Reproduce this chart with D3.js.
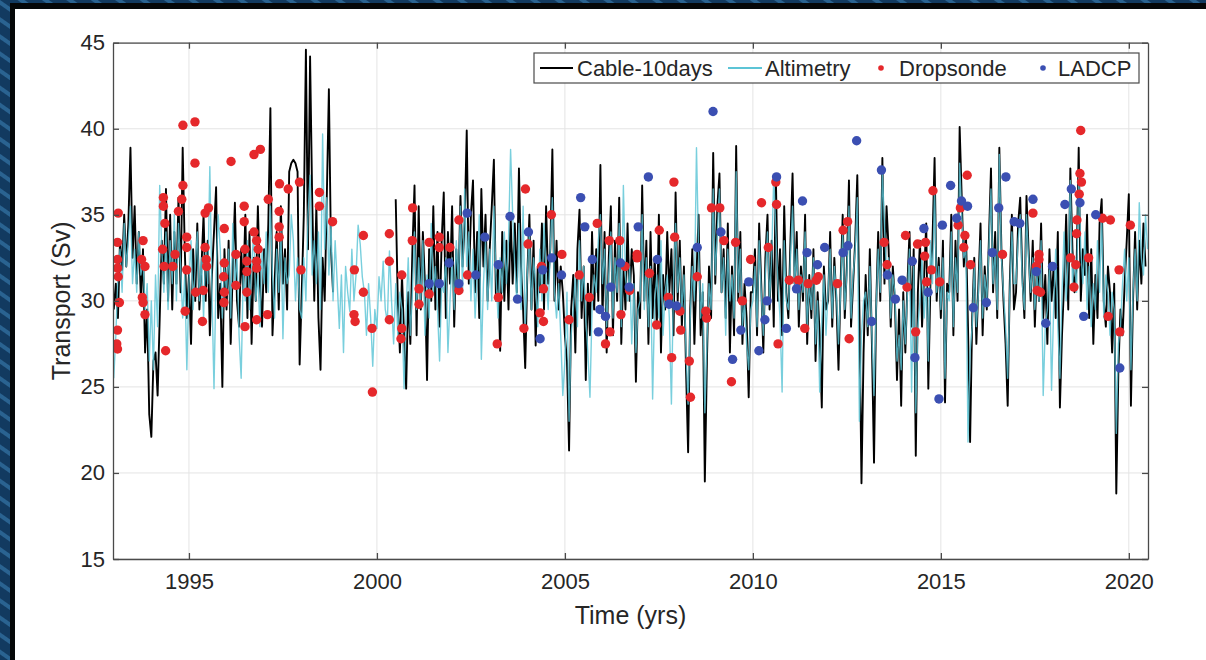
<!DOCTYPE html>
<html>
<head>
<meta charset="utf-8">
<title>Transport time series</title>
<script src="https://d3js.org/d3.v7.min.js"></script>
<style>
html, body { margin: 0; padding: 0; overflow: hidden; background: #fff; }
svg { display: block; }
text { font-family: "Liberation Sans", Arial, Helvetica, sans-serif; fill: #262626; }
</style>
</head>
<body>
<svg width="1206" height="660"></svg>
<script>
// ---- data ----
// cable transport, 18 samples / year
var cableAStart = 1993.0;   // 1993.0 - 1998.83
var cableA = [
 29.5,31.0,29.0,33.5,31.8,35.0,32.0,34.5,38.9,32.5,35.5,31.0,34.0,30.0,33.0,27.0,29.5,23.4,
 22.1,26.5,27.0,24.5,29.0,33.5,31.0,36.5,30.0,35.0,29.5,34.0,31.0,36.0,30.5,38.9,33.0,29.0,
 31.5,27.5,33.0,30.0,34.5,29.5,32.0,35.0,30.0,33.5,28.0,31.5,34.0,36.6,29.0,31.0,25.0,33.0,
 29.5,33.5,27.5,32.0,35.7,30.0,28.5,33.0,30.5,35.0,29.0,34.0,27.5,32.5,30.0,35.5,31.0,28.5,
 33.0,30.5,34.5,41.2,28.0,31.0,34.0,29.5,35.5,31.0,33.0,29.5,37.5,38.0,38.2,38.0,37.5,26.3,
 30.5,35.0,44.6,33.0,44.2,36.0,30.0,35.5,29.0,26.0,32.5,30.0,36.0,42.3,33.0,30.5
];
var cableBStart = 2000.5;   // 2000.5 - 2020.44
var cableB = [
 35.9,30.0,27.0,31.5,28.0,24.9,30.5,27.5,33.0,
 36.7,28.0,35.5,29.5,34.0,31.0,25.4,33.0,30.0,35.5,29.5,34.0,28.5,33.5,36.3,29.0,34.0,31.0,
 35.5,28.5,33.0,30.5,36.1,32.0,34.5,39.9,31.0,35.0,37.0,30.5,34.0,29.0,36.5,32.0,35.0,30.0,
 33.0,35.5,38.2,30.0,32.0,27.1,34.0,30.0,33.5,29.5,35.0,31.0,34.5,30.5,37.7,32.0,29.5,26.1,
 31.5,35.0,29.5,33.5,27.4,32.0,30.5,34.5,29.5,35.5,31.0,33.0,38.8,30.0,33.5,29.5,32.0,30.5,
 28.0,26.5,21.3,29.5,31.5,27.0,33.0,35.3,29.0,32.0,25.4,31.0,28.0,34.0,29.5,33.0,30.0,37.9,
 29.0,34.0,27.0,32.5,35.5,28.0,33.5,30.0,36.0,27.5,32.0,29.5,34.5,30.0,33.0,31.5,25.3,30.5,
 29.0,36.7,30.0,33.5,27.5,34.0,29.0,32.5,28.5,35.0,27.0,31.5,29.5,34.0,30.5,33.0,28.0,36.3,
 30.0,33.5,28.5,32.0,26.0,21.2,29.5,33.0,27.5,31.5,35.0,28.0,30.5,19.5,26.5,32.0,29.0,38.6,
 31.0,35.5,37.4,30.5,33.0,29.0,34.5,27.0,32.0,28.0,39.0,30.0,34.0,27.5,31.0,29.0,24.4,30.5,
 30.5,33.0,28.0,34.5,31.0,27.0,32.5,35.0,29.5,33.5,28.5,37.3,30.0,33.0,28.0,35.5,30.5,29.0,
 33.5,37.4,31.0,34.0,28.5,32.0,30.0,35.0,27.5,31.5,29.0,33.0,26.5,30.5,28.0,23.8,32.0,29.5,
 30.0,34.0,28.5,32.5,30.0,26.0,31.0,35.0,29.0,32.0,37.0,28.5,31.0,33.5,37.3,29.5,19.4,27.0,
 31.5,28.0,33.0,27.5,20.6,29.5,34.0,30.0,38.3,31.0,35.5,33.0,28.5,32.0,30.0,25.4,29.5,23.9,
 30.5,27.0,31.0,34.0,28.5,33.0,21.0,30.5,33.5,28.5,31.5,34.5,24.9,31.0,33.5,38.3,30.0,32.5,
 29.0,33.5,24.1,31.0,30.5,35.0,28.0,33.5,30.0,40.1,36.0,32.0,34.0,28.5,21.8,29.0,32.5,27.5,
 31.0,34.5,28.0,32.0,29.5,33.5,37.7,30.5,34.0,29.0,38.9,33.0,30.0,27.5,23.9,31.0,35.0,29.5,
 30.5,34.5,36.0,31.5,29.0,36.1,33.0,30.0,33.5,28.5,32.0,30.0,34.5,29.0,31.5,27.5,33.0,30.0,
 32.0,29.0,34.0,23.8,28.0,31.0,35.0,29.5,37.7,33.0,30.5,32.0,38.9,30.0,33.0,31.5,35.0,29.0,
 33.0,27.5,31.5,29.0,34.5,35.9,30.0,28.5,32.0,30.5,27.0,31.0,18.8,26.0,29.5,28.0,31.0,33.5,
 36.2,23.9,30.0,34.0,29.5,33.5,31.0,34.5,32.0
];
// altimetry-based transport, 18 samples / year from 1993.0
var altStart = 1993.0;
var altimetry = [
 25.5,28.0,31.5,33.0,30.5,34.5,32.0,33.5,35.5,31.0,33.0,30.5,34.0,31.5,32.5,29.5,31.0,26.5,
 30.0,26.0,31.5,28.5,36.7,33.0,30.5,34.0,29.5,33.5,31.0,35.0,30.0,34.5,32.0,29.0,31.5,26.0,
 31.0,33.5,29.5,32.0,34.0,30.0,32.5,29.0,33.0,31.0,37.8,30.5,24.9,31.5,35.0,33.0,29.0,32.0,
 30.5,33.0,29.0,34.5,31.0,32.5,28.0,25.5,31.5,30.0,33.5,29.5,32.0,34.0,30.0,31.5,28.5,33.0,
 31.0,34.0,30.5,35.5,31.5,29.0,33.0,30.5,34.5,27.8,32.5,31.0,31.5,35.0,33.5,30.0,32.5,29.5,
 29.0,32.5,30.0,35.0,37.3,31.5,33.5,31.0,34.0,29.5,39.7,33.0,36.0,31.5,34.5,30.0,33.5,31.0,
 28.4,31.5,27.0,32.0,30.5,29.4,33.0,30.0,31.5,34.4,33.3,31.4,30.5,28.0,31.0,29.0,26.2,29.5,
 28.4,31.4,30.0,32.3,29.5,28.8,32.9,30.0,27.5,31.0,28.0,30.5,29.5,24.9,29.5,32.5,28.0,30.5,
 34.0,29.5,32.5,30.0,33.5,28.0,31.5,29.0,34.5,30.5,32.0,29.5,26.5,31.0,30.5,32.5,27.0,30.0,
 32.5,29.5,33.5,31.0,35.5,30.5,36.5,32.0,34.0,30.0,33.0,29.0,31.5,35.0,26.6,31.0,33.5,29.5,
 33.0,30.0,35.5,31.5,29.0,32.5,30.5,34.0,31.0,33.5,38.8,35.0,32.0,30.0,34.5,29.5,35.5,28.5,
 31.5,34.0,29.5,32.5,31.0,28.5,33.0,30.0,34.5,31.5,29.5,33.0,36.0,30.5,29.0,31.0,28.0,24.5,
 26.5,30.5,23.0,28.0,29.5,31.5,28.5,33.5,30.0,32.0,29.0,27.0,24.4,29.5,31.5,30.5,33.5,35.0,
 31.0,33.0,28.5,31.5,34.0,29.0,32.5,30.5,34.5,28.5,36.7,31.5,30.0,32.0,27.5,31.0,27.0,29.5,
 30.0,35.0,29.5,32.5,28.5,32.0,24.3,30.0,31.5,29.0,33.5,28.0,30.5,31.5,29.0,24.0,31.0,34.5,
 30.5,32.5,29.5,31.5,27.0,24.0,29.0,32.0,30.0,38.9,33.0,29.0,31.0,23.5,27.5,31.0,29.5,36.5,
 31.5,34.0,36.5,30.5,32.5,28.0,33.0,30.0,31.5,29.0,37.5,30.5,33.0,28.5,30.0,27.5,26.0,29.5,
 30.0,32.0,28.5,33.5,30.5,28.0,31.5,34.0,30.0,32.5,37.3,34.0,31.0,29.0,24.7,33.5,30.0,29.5,
 32.5,35.5,31.0,33.0,29.5,31.5,30.5,34.0,28.5,31.0,29.5,32.5,27.5,30.0,24.7,29.0,31.5,28.0,
 30.5,33.0,29.0,32.0,30.5,27.5,30.5,34.0,29.5,31.5,35.5,29.0,31.5,33.0,36.0,23.0,28.0,30.0,
 30.5,28.5,32.0,28.0,24.5,29.5,33.0,30.5,37.5,34.5,31.5,32.5,29.0,31.5,30.5,26.5,28.0,26.0,
 30.0,27.5,30.5,33.0,24.7,32.0,23.5,28.5,30.0,32.5,29.0,31.0,26.5,33.5,31.0,36.5,30.5,32.0,
 29.5,32.5,25.5,30.5,30.0,34.0,28.5,32.5,30.5,38.0,35.0,32.5,33.0,21.8,27.0,28.5,32.0,28.5,
 30.5,33.5,29.0,31.5,30.0,33.0,36.5,31.0,33.0,29.5,38.5,32.5,30.5,28.5,25.5,30.5,34.0,31.0,
 31.0,33.5,35.0,31.0,29.5,35.0,32.5,30.5,32.5,29.5,31.5,30.0,33.5,24.5,28.5,29.5,32.0,24.8,
 29.5,33.0,28.5,25.5,30.5,34.0,30.0,32.5,37.0,31.0,32.5,30.5,37.5,33.0,31.0,34.0,29.5,32.0,
 28.5,31.0,29.5,33.5,30.5,35.0,29.0,31.5,30.5,28.0,30.5,29.5,22.3,27.5,28.5,31.0,33.0,30.0,
 32.5,26.0,30.5,33.0,30.0,35.7,32.5,31.5,35.0,33.0
];
var perYear = 18;

// dropsonde sections (time, Sv)
var dropT = [1993.12,1993.10,1993.10,1993.10,1993.12,1993.15,1993.10,1993.08,1993.10,1993.78,1993.74,1993.83,1993.76,1993.78,1993.83,
 1994.38,1994.32,1994.32,1994.36,1994.30,1994.34,1994.57,1994.63,1994.72,1994.81,1994.84,1994.84,1995.16,1995.16,1994.94,1994.94,1994.94,1994.90,
 1995.36,1995.18,1995.38,1995.43,1995.46,1995.47,1995.43,1995.52,1995.94,1995.94,1995.92,1995.94,1995.93,1996.12,1996.25,1996.25,
 1996.47,1996.47,1996.49,1996.54,1996.54,1996.54,1996.49,1996.73,1996.80,1996.84,1996.80,1996.80,1996.80,1996.73,1996.90,
 1997.11,1997.09,1997.41,1997.40,1997.40,1997.40,1997.64,1997.94,1997.98,1998.47,1998.47,1998.82,
 1999.40,1999.64,1999.64,1999.39,1999.42,1999.87,1999.88,2000.33,2000.33,2000.33,2000.66,2000.66,2000.64,2000.95,2000.94,
 2001.12,2001.12,2001.39,2001.39,2001.66,2001.66,2001.94,2002.18,2002.18,2002.41,2003.23,2003.20,2003.95,2004.02,2003.91,
 2004.38,2004.43,2004.34,2004.43,2004.64,2004.92,2005.11,2005.38,2005.86,2005.65,2006.18,2006.46,2006.92,2006.92,2006.20,2006.08,
 2006.49,2006.72,2006.60,2007.25,2007.44,2007.51,2007.90,2007.92,2007.75,2008.06,2008.08,2007.84,2008.31,2008.34,2008.52,2008.75,2008.77,
 2008.90,2009.12,2009.23,2009.54,2009.72,2009.43,2009.94,2010.23,2010.41,2010.61,2010.63,2010.67,2010.97,2011.21,2011.47,2011.69,2011.74,
 2012.25,2011.38,2012.40,2012.52,2012.56,2013.49,2013.57,2014.06,2014.38,2014.59,2014.57,2014.10,2014.33,2014.62,2014.75,2014.79,2014.97,
 2015.70,2015.52,2015.46,2015.64,2015.61,2015.79,2016.64,2017.45,2017.61,2017.61,2017.54,2017.56,2017.65,
 2018.72,2018.70,2018.74,2018.68,2018.62,2018.61,2018.45,2018.59,2018.54,2018.93,2019.30,2019.51,2019.74,2019.45,2019.76,2020.04];
var dropV = [35.1,33.4,32.4,31.9,31.4,29.9,28.3,27.5,27.2,33.5,32.4,32.0,30.2,29.9,29.2,
 27.1,36.0,35.5,34.5,33.0,32.0,32.0,32.7,35.2,35.9,36.7,40.2,40.4,38.0,33.7,33.1,31.8,29.4,
 28.8,30.5,30.6,33.1,32.4,32.0,35.1,35.4,34.2,32.2,31.4,30.5,29.9,38.1,32.7,30.9,
 35.5,34.6,33.0,32.3,31.7,30.5,28.5,34.0,33.5,33.0,32.3,31.9,28.9,38.5,38.8,
 35.9,29.2,36.8,35.2,34.3,33.7,36.5,36.9,31.8,36.3,35.5,34.6,
 31.8,33.8,30.5,29.2,28.8,28.4,24.7,33.9,32.3,28.9,31.5,28.4,27.8,35.4,33.5,
 30.7,29.8,33.4,30.4,33.7,33.1,33.1,34.7,30.6,31.5,30.2,27.5,36.5,33.3,28.4,
 32.0,30.7,29.3,28.8,35.0,32.7,28.9,31.5,34.5,30.2,33.5,33.5,32.7,32.5,28.2,27.5,
 29.2,30.6,32.0,31.6,28.6,34.1,36.9,33.7,30.2,29.4,28.3,26.7,26.5,24.4,31.4,29.4,29.0,
 35.4,35.4,33.5,33.4,30.0,25.3,32.4,35.7,33.1,36.9,35.6,27.5,31.2,31.2,31.0,31.2,31.4,
 31.0,28.4,34.1,34.6,27.8,33.4,32.1,33.8,33.3,33.4,32.6,30.8,28.2,31.1,31.8,36.4,31.1,
 37.3,35.4,34.4,33.8,33.1,32.1,32.7,35.1,32.7,32.4,32.0,30.6,30.5,
 39.9,37.4,36.9,36.2,34.7,33.9,32.5,32.1,30.8,32.5,34.8,34.7,31.8,29.1,28.2,34.4];

// LADCP sections (time, Sv)
var ladcpT = [2001.39,2001.66,2001.92,2002.18,2002.40,2002.63,2002.87,2003.23,2003.54,2003.74,2004.03,2004.34,2004.41,2004.65,2004.91,
 2005.42,2005.53,2005.73,2005.89,2005.93,2006.08,2006.22,2006.48,2006.71,2006.95,2007.22,2007.46,2007.77,2007.97,2008.52,2008.94,
 2009.15,2009.46,2009.68,2009.89,2010.16,2010.32,2010.38,2010.63,2010.89,2011.16,2011.32,2011.44,2011.72,2011.91,2012.40,2012.53,2012.76,
 2013.16,2013.42,2013.58,2013.79,2013.97,2014.24,2014.31,2014.55,2014.66,2014.95,2015.04,2015.26,2015.42,2015.55,2015.71,2015.86,
 2016.21,2016.37,2016.54,2016.73,2016.95,2017.10,2017.45,2017.54,2017.79,2017.97,2018.30,2018.47,2018.70,2018.80,2019.12,2019.76];
var ladcpV = [31.0,31.0,32.2,31.0,35.1,31.5,33.7,32.1,34.9,30.1,34.0,27.8,31.8,32.5,31.5,
 36.0,34.3,32.4,28.2,29.5,29.1,30.8,32.2,30.8,34.3,37.2,32.4,29.8,29.7,33.1,41.0,
 34.0,26.6,28.3,31.1,27.1,28.9,30.0,37.2,28.4,30.7,35.8,32.8,32.1,33.1,32.8,33.2,39.3,
 28.8,37.6,31.5,30.1,31.2,32.3,26.7,34.2,30.5,24.3,34.4,36.7,34.8,35.8,35.5,29.6,
 29.9,32.8,35.4,37.2,34.6,34.5,35.9,31.7,28.7,32.0,35.6,36.5,35.7,29.1,35.0,26.1];

var xTicks = [1995, 2000, 2005, 2010, 2015, 2020];
var yTicks = [15, 20, 25, 30, 35, 40, 45];
var legendLabels = ["Cable-10days", "Altimetry", "Dropsonde", "LADCP"];

// ---- drawing ----
var svg = d3.select("svg");

// slide background strip, black frame, white panel
var defs = svg.append("defs");
var pat = defs.append("pattern").attr("id", "streaks").attr("patternUnits", "userSpaceOnUse")
  .attr("width", 14).attr("height", 14).attr("patternTransform", "rotate(35)");
pat.append("rect").attr("width", 14).attr("height", 14).attr("fill", "#123a60");
pat.append("rect").attr("width", 14).attr("height", 4).attr("fill", "#2a6391");
svg.append("rect").attr("width", 1206).attr("height", 660).attr("fill", "url(#streaks)");
svg.append("rect").attr("x", 10).attr("y", 3).attr("width", 1300).attr("height", 700).attr("fill", "#050708");
svg.append("rect").attr("x", 15).attr("y", 9).attr("width", 1300).attr("height", 700).attr("fill", "#fff");

var x = d3.scaleLinear().domain([1992.98, 2020.51]).range([113, 1148]);
var y = d3.scaleLinear().domain([15, 45]).range([559, 42.7]);
var x0 = x.range()[0], x1 = x.range()[1], yb = y.range()[0], yt = y.range()[1];

// grid
svg.append("g").selectAll("line").data(xTicks).enter().append("line")
  .attr("x1", d => x(d)).attr("x2", d => x(d)).attr("y1", yb).attr("y2", yt)
  .attr("stroke", "#e4e4e4").attr("stroke-width", 1);
svg.append("g").selectAll("line").data(yTicks).enter().append("line")
  .attr("y1", d => y(d)).attr("y2", d => y(d)).attr("x1", x0).attr("x2", x1)
  .attr("stroke", "#e4e4e4").attr("stroke-width", 1);

defs.append("clipPath").attr("id", "plot").append("rect")
  .attr("x", x0).attr("y", yt).attr("width", x1 - x0).attr("height", yb - yt);
var plot = svg.append("g").attr("clip-path", "url(#plot)");

function series(start, vals) {
  return vals.map(function(v, i) { return [start + i / perYear, v]; });
}
var line = d3.line().x(d => x(d[0])).y(d => y(d[1]));

[series(cableAStart, cableA), series(cableBStart, cableB)].forEach(function(s) {
  plot.append("path").datum(s).attr("d", line)
    .attr("fill", "none").attr("stroke", "#000").attr("stroke-width", 1.9)
    .attr("stroke-linejoin", "round");
});
plot.append("path").datum(series(altStart, altimetry)).attr("d", line)
  .attr("fill", "none").attr("stroke", "#5cc4d6").attr("stroke-width", 1.4)
  .attr("stroke-opacity", 0.82).attr("stroke-linejoin", "round");

plot.append("g").selectAll("circle").data(dropT).enter().append("circle")
  .attr("cx", d => x(d)).attr("cy", (d, i) => y(dropV[i])).attr("r", 4.7)
  .attr("fill", "#e5282b");
plot.append("g").selectAll("circle").data(ladcpT).enter().append("circle")
  .attr("cx", d => x(d)).attr("cy", (d, i) => y(ladcpV[i])).attr("r", 4.7)
  .attr("fill", "#3b4fb2");

// axes (box style, ticks inward)
function styleAxis(g) {
  g.selectAll("path,line").attr("stroke", "#4a4a4a").attr("stroke-width", 1.3);
  g.selectAll("text").attr("fill", "#262626").attr("font-size", 22)
    .attr("font-family", "'Liberation Sans', Arial, sans-serif");
}
svg.append("g").attr("transform", "translate(0," + yb + ")")
  .call(d3.axisBottom(x).tickValues(xTicks).tickFormat(d3.format("d")).tickSize(-6).tickSizeOuter(0).tickPadding(14))
  .call(styleAxis);
svg.append("g").attr("transform", "translate(0," + yt + ")")
  .call(d3.axisTop(x).tickValues(xTicks).tickFormat("").tickSize(-6).tickSizeOuter(0))
  .call(styleAxis);
svg.append("g").attr("transform", "translate(" + x0 + ",0)")
  .call(d3.axisLeft(y).tickValues(yTicks).tickSize(-6).tickSizeOuter(0).tickPadding(8))
  .call(styleAxis);
svg.append("g").attr("transform", "translate(" + x1 + ",0)")
  .call(d3.axisRight(y).tickValues(yTicks).tickFormat("").tickSize(-6).tickSizeOuter(0))
  .call(styleAxis);

// axis titles
svg.append("text").attr("x", (x0 + x1) / 2).attr("y", 624).attr("text-anchor", "middle")
  .attr("font-size", 25).text("Time (yrs)");
svg.append("text").attr("transform", "translate(70," + ((yt + yb) / 2) + ") rotate(-90)")
  .attr("text-anchor", "middle").attr("font-size", 25).text("Transport (Sv)");

// legend
var lg = svg.append("g");
lg.append("rect").attr("x", 534).attr("y", 53).attr("width", 605).attr("height", 30)
  .attr("fill", "#fff").attr("stroke", "#4a4a4a").attr("stroke-width", 1.2);
var ly = 68;
lg.append("line").attr("x1", 540).attr("x2", 573).attr("y1", ly).attr("y2", ly)
  .attr("stroke", "#000").attr("stroke-width", 2);
lg.append("line").attr("x1", 728).attr("x2", 762).attr("y1", ly).attr("y2", ly)
  .attr("stroke", "#5cc4d6").attr("stroke-width", 2);
lg.append("circle").attr("cx", 881).attr("cy", ly).attr("r", 2.8).attr("fill", "#e5282b");
lg.append("circle").attr("cx", 1043).attr("cy", ly).attr("r", 2.8).attr("fill", "#3b4fb2");
var lx = [577, 765, 899, 1058];
lg.selectAll("text.lab").data(legendLabels).enter().append("text").attr("class", "lab")
  .attr("x", (d, i) => lx[i]).attr("y", ly + 8).attr("font-size", 22).text(d => d);
</script>
</body>
</html>
